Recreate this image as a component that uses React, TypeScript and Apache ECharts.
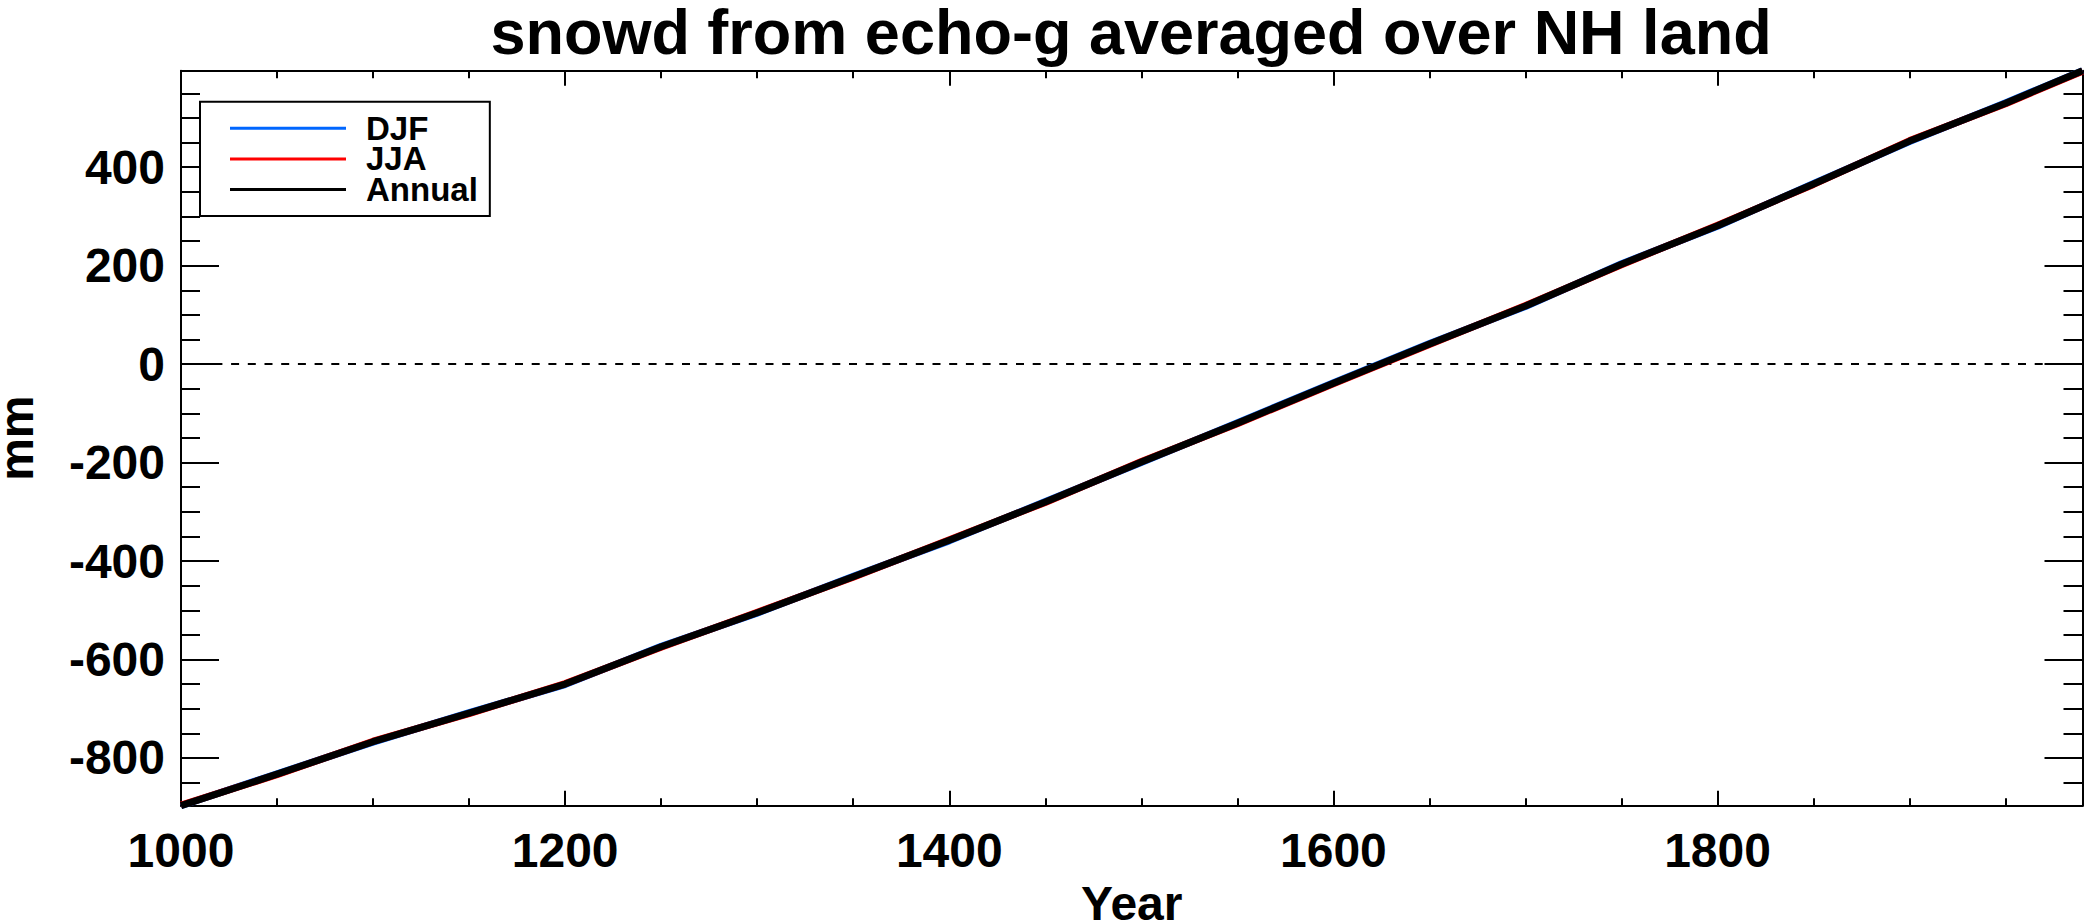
import React, { useEffect, useRef } from "react";
import * as echarts from "echarts";

const TITLE = "snowd from echo-g averaged over NH land";
const X_NAME = "Year";
const Y_NAME = "mm";
const SERIES_NAMES = ["DJF", "JJA", "Annual"];
const SERIES_COLORS = ["#0066ff", "#ff0000", "#000000"];

const X_MIN = 1000;
const X_MAX = 1990;
const Y_MIN = -897;
const Y_MAX = 596;
const ZERO_LEVEL = 0;

const YEARS = [1000, 1050, 1100, 1150, 1200, 1250, 1300, 1350, 1400, 1450, 1500, 1550, 1600, 1650, 1700, 1750, 1800, 1850, 1900, 1950, 1990];
const ANNUAL = [-897, -833, -767, -709, -650, -574, -505, -432, -358, -280, -199, -120, -39, 41, 118, 203, 281, 366, 453, 530, 596];
const DJF = [-897, -832, -768, -708, -651, -573, -506, -431, -359, -279, -200, -119, -38, 42, 117, 204, 280, 367, 452, 531, 596];
const JJA = [-896, -834, -766, -710, -649, -575, -504, -433, -357, -281, -198, -121, -40, 40, 119, 202, 282, 365, 454, 529, 595];

const FONT = "'Liberation Sans', Arial, Helvetica, sans-serif";

export default function App() {
  const ref = useRef<HTMLDivElement | null>(null);

  useEffect(() => {
    if (!ref.current) return;
    const chart = echarts.init(ref.current, null, { renderer: "svg" });

    const lineBlack = { color: "#000", width: 2 };
    const xBase = {
      type: "value",
      min: X_MIN,
      max: X_MAX,
      splitNumber: 5,
      axisLine: { show: true, onZero: false, lineStyle: lineBlack },
      axisTick: { show: true, inside: true, length: 15, lineStyle: lineBlack },
      minorTick: { show: true, splitNumber: 4, length: 7.5, lineStyle: lineBlack },
      splitLine: { show: false },
      minorSplitLine: { show: false },
    };
    const yBase = {
      type: "value",
      min: Y_MIN,
      max: Y_MAX,
      splitNumber: 7,
      axisLine: { show: true, onZero: false, lineStyle: lineBlack },
      axisTick: { show: true, inside: true, length: 38, lineStyle: lineBlack },
      minorTick: { show: true, splitNumber: 4, length: 19, lineStyle: lineBlack },
      splitLine: { show: false },
      minorSplitLine: { show: false },
    };
    const labelStyle = {
      fontSize: 48,
      fontWeight: "bold",
      fontFamily: FONT,
      color: "#000",
    };

    const mkSeries = (name: string, values: number[], color: string, z: number) => ({
      type: "line",
      name,
      data: YEARS.map((yr, i) => [yr, values[i]]),
      symbol: "none",
      showSymbol: false,
      lineStyle: { color, width: 7, join: "round" },
      itemStyle: { color },
      z,
      silent: true,
    });

    chart.setOption({
      animation: false,
      backgroundColor: "#fff",
      title: {
        text: TITLE,
        left: 1131,
        textAlign: "center",
        top: 0,
        padding: 0,
        textStyle: { fontSize: 63, fontWeight: "bold", fontFamily: FONT, color: "#000" },
      },
      grid: {
        left: 181,
        right: 2.5,
        top: 70.7,
        bottom: 117.3,
        containLabel: false,
        outerBoundsMode: "none",
      },
      legend: {
        data: SERIES_NAMES,
        orient: "vertical",
        left: 200,
        top: 101.7,
        icon: "rect",
        itemWidth: 116,
        itemHeight: 3,
        itemGap: -2.3,
        padding: [10, 12, 10, 30],
        borderColor: "#000",
        borderWidth: 2,
        backgroundColor: "#fff",
        selectedMode: false,
        textStyle: {
          fontSize: 33,
          fontWeight: "bold",
          fontFamily: FONT,
          color: "#000",
          padding: [0, 0, 0, 15],
        },
      },
      xAxis: [
        {
          ...xBase,
          position: "bottom",
          axisLabel: {
            ...labelStyle,
            show: true,
            margin: 21,
            showMaxLabel: false,
            hideOverlap: false,
            formatter: (v: number) => String(v),
          },
          name: X_NAME,
          nameLocation: "middle",
          nameGap: 69,
          nameTextStyle: labelStyle,
        },
        {
          ...xBase,
          position: "top",
          axisLabel: { show: false },
        },
      ],
      yAxis: [
        {
          ...yBase,
          position: "left",
          axisLabel: {
            ...labelStyle,
            show: true,
            margin: 16,
            showMinLabel: false,
            showMaxLabel: false,
            hideOverlap: false,
            formatter: (v: number) => String(v),
          },
          name: Y_NAME,
          nameLocation: "middle",
          nameRotate: 90,
          nameGap: 141,
          nameTextStyle: labelStyle,
        },
        {
          ...yBase,
          position: "right",
          axisLabel: { show: false },
        },
      ],
      series: [
        {
          type: "line",
          name: "zero",
          data: [
            [X_MIN, ZERO_LEVEL],
            [X_MAX, ZERO_LEVEL],
          ],
          symbol: "none",
          lineStyle: { color: "#000", width: 2, type: [8, 8.7] },
          z: 1,
          silent: true,
        },
        mkSeries(SERIES_NAMES[0], DJF, SERIES_COLORS[0], 2),
        mkSeries(SERIES_NAMES[1], JJA, SERIES_COLORS[1], 3),
        mkSeries(SERIES_NAMES[2], ANNUAL, SERIES_COLORS[2], 4),
      ],
    });

    return () => {
      chart.dispose();
    };
  }, []);

  return (
    <div
      ref={ref}
      style={{ position: "absolute", left: 0, top: 0, width: 2085, height: 923, background: "#fff" }}
    />
  );
}
